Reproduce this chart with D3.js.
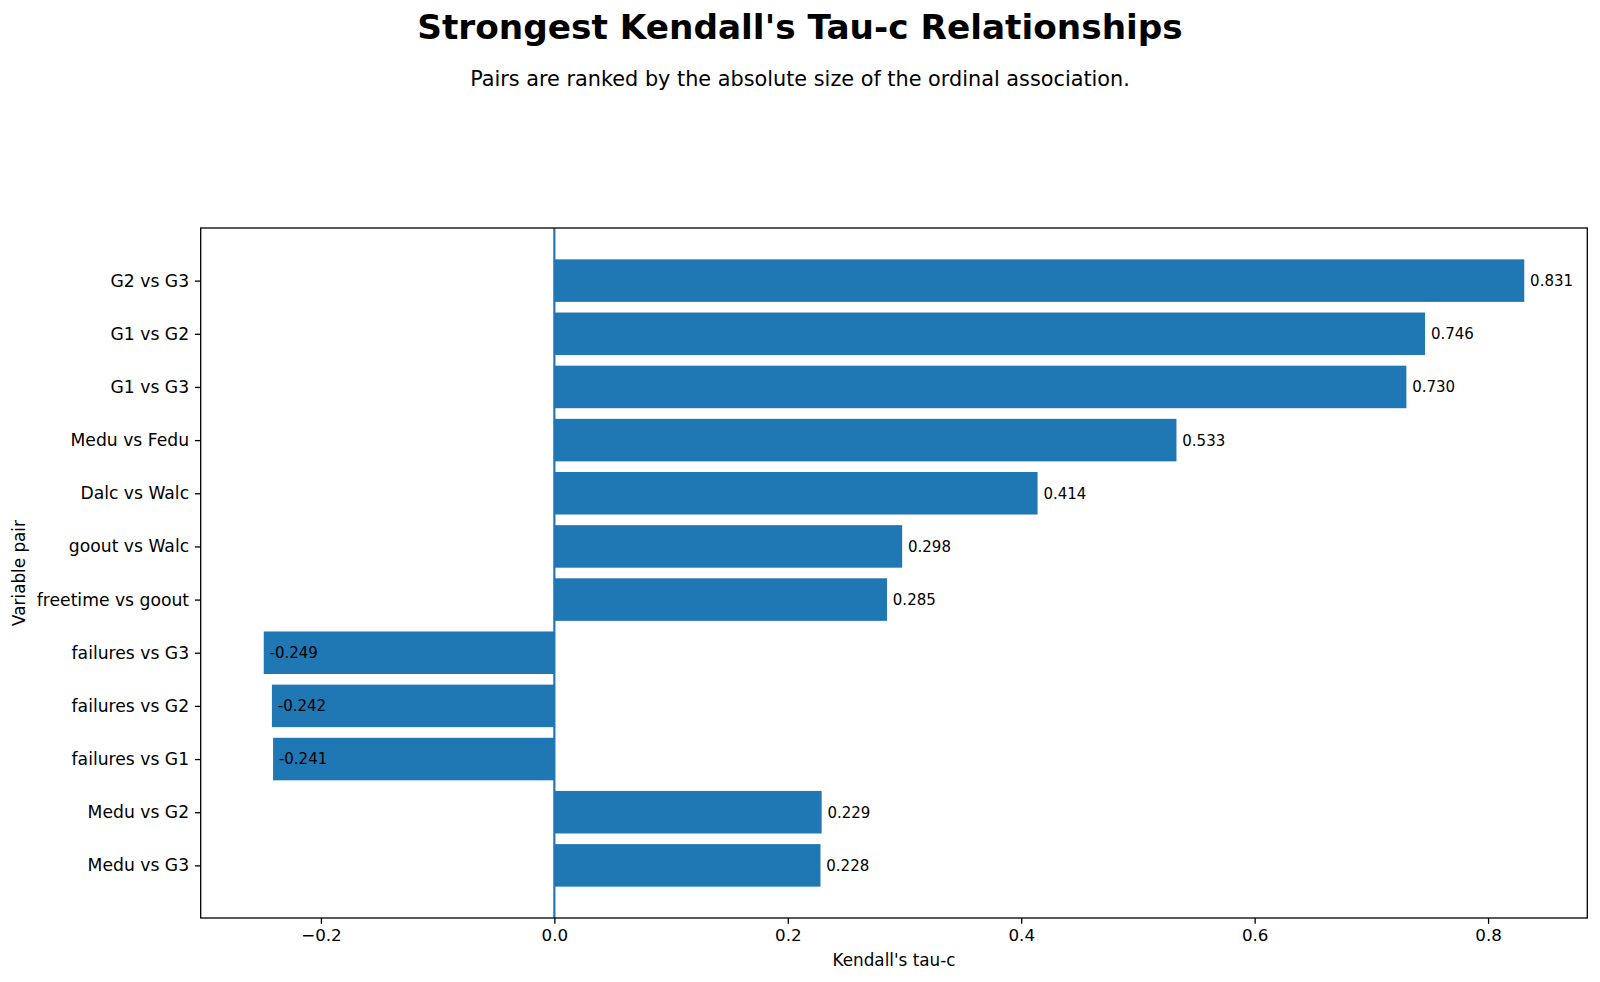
<!DOCTYPE html>
<html>
<head>
<meta charset="utf-8">
<script src="https://cdn.jsdelivr.net/npm/d3@7"></script>
<style>
  body { margin: 0; background: #fff; }
  svg { display: block; font-family: "DejaVu Sans", sans-serif; }
</style>
</head>
<body>
<svg id="chart" width="1600" height="982"></svg>
<script>
const pairs = ["G2 vs G3", "G1 vs G2", "G1 vs G3", "Medu vs Fedu", "Dalc vs Walc", "goout vs Walc",
  "freetime vs goout", "failures vs G3", "failures vs G2", "failures vs G1", "Medu vs G2", "Medu vs G3"];
const tau = [0.831, 0.746, 0.730, 0.533, 0.414, 0.298, 0.285, -0.249, -0.242, -0.241, 0.229, 0.228];
const xTicks = [-0.2, 0.0, 0.2, 0.4, 0.6, 0.8];

(function () {
const svg = d3.select("#chart");
const mLeft = 200.7, mRight = 1587.3, mTop = 228, mBottom = 918;
const tickFont = 16.7, yTickFont = 17.2, valFont = 15, tickLen = 5.8;

const minV = d3.min(tau), maxV = d3.max(tau);
const pad = (maxV - minV) * 0.05;
const x = d3.scaleLinear().domain([minV - pad, maxV + pad]).range([mLeft, mRight]);

const n = pairs.length;
const y = d3.scaleLinear().domain([-0.99, n - 1 + 0.99]).range([mTop, mBottom]);
const barH = y(0.4) - y(-0.4);

const fg = svg.append("g");

fg.selectAll("rect.bar").data(tau).join("rect")
  .attr("class", "bar")
  .attr("x", d => Math.min(x(0), x(d)))
  .attr("width", d => Math.abs(x(d) - x(0)))
  .attr("y", (d, i) => y(i) - barH / 2)
  .attr("height", barH)
  .attr("fill", "#1f77b4");

fg.append("line")
  .attr("x1", x(0)).attr("x2", x(0))
  .attr("y1", mTop).attr("y2", mBottom)
  .attr("stroke", "#1f77b4").attr("stroke-width", 2.2);

fg.selectAll("text.val").data(tau).join("text")
  .attr("class", "val")
  .attr("x", d => x(d + 0.005))
  .attr("y", (d, i) => y(i))
  .attr("dy", "0.36em")
  .attr("font-size", valFont)
  .attr("fill", "#000")
  .text(d => d.toFixed(3));

const xAxis = d3.axisBottom(x).tickValues(xTicks)
  .tickFormat(d => d === 0 ? "0.0" : (d < 0 ? "\u2212" + Math.abs(d).toFixed(1) : d.toFixed(1)))
  .tickSizeOuter(0).tickSize(tickLen).tickPadding(tickLen);
const gx = svg.append("g").attr("transform", `translate(0,${mBottom})`).call(xAxis);
gx.select(".domain").remove();
gx.selectAll("text").attr("font-size", tickFont).attr("font-family", "DejaVu Sans").attr("fill", "#000");
gx.selectAll("line").attr("stroke", "#000").attr("stroke-width", 1.3);

const yAxis = d3.axisLeft(y).tickValues(d3.range(n)).tickFormat(i => pairs[i])
  .tickSizeOuter(0).tickSize(tickLen).tickPadding(tickLen);
const gy = svg.append("g").attr("transform", `translate(${mLeft},0)`).call(yAxis);
gy.select(".domain").remove();
gy.selectAll("text").attr("font-size", yTickFont).attr("font-family", "DejaVu Sans").attr("fill", "#000");
gy.selectAll("line").attr("stroke", "#000").attr("stroke-width", 1.3);

svg.append("rect")
  .attr("x", mLeft).attr("y", mTop)
  .attr("width", mRight - mLeft).attr("height", mBottom - mTop)
  .attr("fill", "none").attr("stroke", "#000").attr("stroke-width", 1.3);

svg.append("text")
  .attr("x", (mLeft + mRight) / 2).attr("y", 966)
  .attr("text-anchor", "middle").attr("font-size", 16.8)
  .text("Kendall's tau-c");
svg.append("text")
  .attr("transform", `translate(19,${(mTop + mBottom) / 2}) rotate(-90)`)
  .attr("text-anchor", "middle").attr("dy", "0.35em").attr("font-size", 16.8)
  .text("Variable pair");

svg.append("text")
  .attr("x", 800).attr("y", 38.5)
  .attr("text-anchor", "middle").attr("font-size", 34.3).attr("font-weight", "bold")
  .text("Strongest Kendall's Tau-c Relationships");
svg.append("text")
  .attr("x", 800).attr("y", 86)
  .attr("text-anchor", "middle").attr("font-size", 20.8)
  .text("Pairs are ranked by the absolute size of the ordinal association.");
})();
</script>
</body>
</html>
